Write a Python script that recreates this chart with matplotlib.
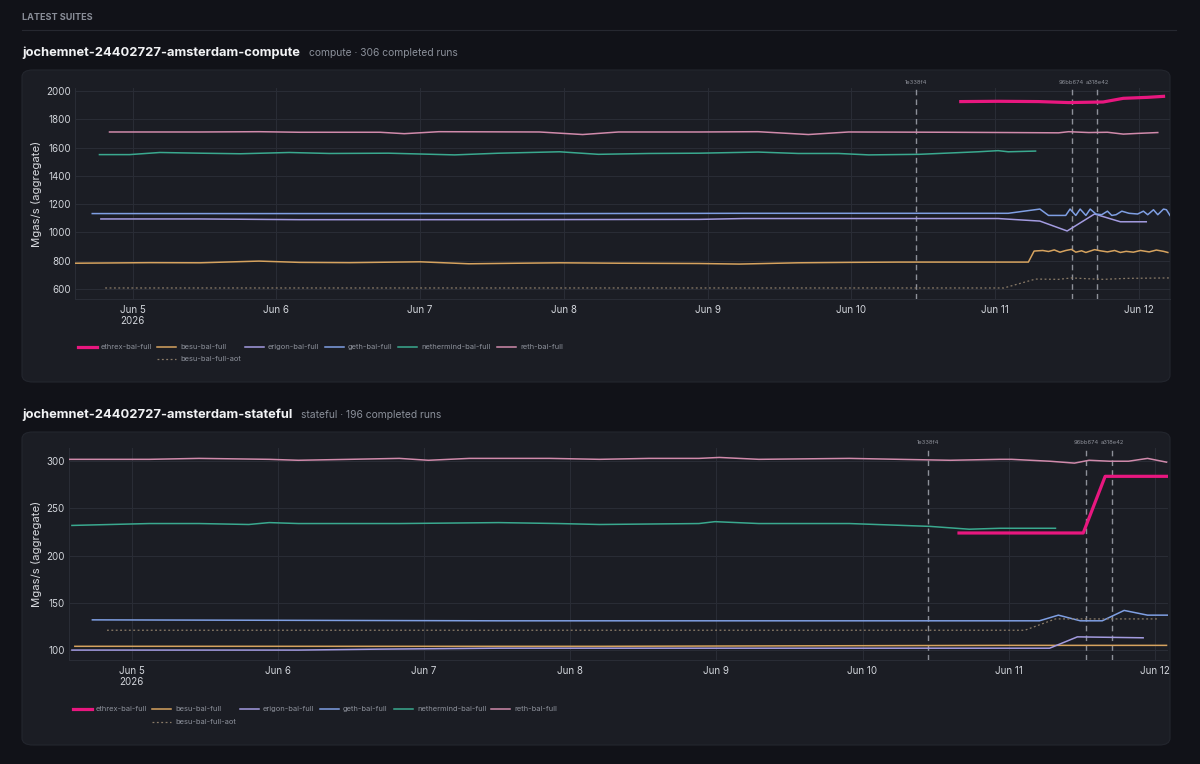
import numpy as np
import pandas as pd
import matplotlib
matplotlib.use("Agg")
import matplotlib.pyplot as plt
from matplotlib.patches import FancyBboxPatch
from matplotlib.lines import Line2D

plt.rcParams['font.family'] = ['Inter', 'DejaVu Sans']

# ---- data (time = days after 2026-06-05 00:00) ----
base_day = "2026-06-05"
tick_days = pd.date_range("2026-06-05", "2026-06-12", freq="D")
tick_labels = ["Jun 5\n2026", "Jun 6", "Jun 7", "Jun 8", "Jun 9", "Jun 10", "Jun 11", "Jun 12"]
commits = ["1e338f4", "96bb674", "a318e42"]
commit_times = ["2026-06-10 10:45", "2026-06-11 12:45", "2026-06-11 17:00"]

names = ["ethrex-bal-full", "besu-bal-full", "erigon-bal-full", "geth-bal-full",
         "nethermind-bal-full", "reth-bal-full", "besu-bal-full-aot"]

# compute suite
ethrex_c_t = [5.76, 6.02, 6.30, 6.51, 6.75, 6.89, 7.06, 7.17]
ethrex_c_v = [1925, 1927, 1925, 1918, 1922, 1948, 1955, 1962]
besu_c_t = [-0.40, 0.12, 0.47, 0.88, 1.16, 1.51, 2.00, 2.34, 2.69, 2.97, 3.38, 3.94, 4.22, 4.63,
            4.98, 5.33, 5.67, 6.02, 6.23, 6.27, 6.33, 6.37, 6.41, 6.45, 6.49, 6.53, 6.56, 6.60,
            6.63, 6.69, 6.73, 6.78, 6.83, 6.87, 6.91, 6.96, 7.01, 7.07, 7.12, 7.17, 7.20]
besu_c_v = [782, 786, 785, 797, 788, 786, 792, 778, 782, 785, 782, 780, 776, 785,
            788, 790, 790, 790, 790, 868, 872, 865, 876, 860, 872, 880, 860, 870,
            858, 878, 870, 862, 872, 858, 866, 860, 872, 862, 875, 866, 858]
erigon_c_t = [-0.22, 0.47, 1.16, 2.55, 3.94, 4.25, 5.33, 6.02, 6.31, 6.50, 6.69, 6.87, 7.05]
erigon_c_v = [1095, 1095, 1090, 1090, 1092, 1098, 1098, 1098, 1080, 1010, 1130, 1075, 1075]
geth_c_t = [-0.28, 1.50, 3.00, 4.25, 6.09, 6.31, 6.37, 6.42, 6.49, 6.52, 6.56, 6.59, 6.63,
            6.66, 6.70, 6.74, 6.78, 6.81, 6.84, 6.88, 6.93, 6.99, 7.03, 7.06, 7.10, 7.13, 7.17,
            7.19, 7.215]
geth_c_v = [1133, 1133, 1133, 1135, 1135, 1165, 1120, 1120, 1120, 1165, 1120, 1165, 1120,
            1165, 1130, 1125, 1150, 1120, 1125, 1150, 1135, 1130, 1150, 1125, 1160, 1125, 1165,
            1160, 1120]
nether_c_t = [-0.23, -0.02, 0.19, 0.47, 0.75, 1.09, 1.37, 1.78, 2.24, 2.55, 2.97, 3.24, 3.59,
              3.94, 4.35, 4.63, 4.91, 5.12, 5.47, 5.88, 6.02, 6.09, 6.28]
nether_c_v = [1550, 1550, 1565, 1560, 1556, 1565, 1558, 1560, 1548, 1560, 1570, 1552, 1558,
              1560, 1568, 1558, 1558, 1548, 1552, 1570, 1578, 1570, 1575]
reth_c_t = [-0.16, 0.47, 0.88, 1.16, 1.72, 1.89, 2.13, 2.83, 3.13, 3.38, 3.94, 4.35, 4.70,
            4.98, 5.67, 6.09, 6.44, 6.51, 6.65, 6.78, 6.89, 6.99, 7.13]
reth_c_v = [1710, 1710, 1712, 1708, 1708, 1698, 1712, 1710, 1692, 1710, 1710, 1712, 1692,
            1710, 1708, 1706, 1704, 1712, 1706, 1708, 1695, 1700, 1706]
aot_c_t = [-0.19, 2.00, 4.00, 6.06, 6.28, 6.44, 6.53, 6.65, 6.75, 6.92, 7.215]
aot_c_v = [607, 607, 607, 607, 670, 668, 678, 672, 668, 675, 678]

# stateful suite
ethrex_s_t = [5.66, 6.51, 6.66, 7.08]
ethrex_s_v = [224, 224, 284, 284]
besu_s_t = [-0.39, 3.20, 5.94, 7.08]
besu_s_v = [104, 104, 105, 105]
erigon_s_t = [-0.41, 1.14, 1.69, 2.51, 6.14, 6.28, 6.47, 6.92]
erigon_s_v = [100, 100, 101, 102, 102, 102, 114, 113]
geth_s_t = [-0.27, 2.51, 5.25, 6.21, 6.34, 6.49, 6.64, 6.79, 6.95, 7.09]
geth_s_v = [132, 131, 131, 131, 137, 131, 131, 142, 137, 137]
nether_s_t = [-0.41, 0.12, 0.46, 0.80, 0.94, 1.14, 1.83, 2.51, 2.92, 3.20, 3.88, 3.99, 4.29,
              4.91, 5.46, 5.73, 5.94, 6.32]
nether_s_v = [232, 234, 234, 233, 235, 234, 234, 235, 234, 233, 234, 236, 234,
              234, 231, 228, 229, 229]
reth_s_t = [-0.43, 0.12, 0.46, 0.94, 1.14, 1.49, 1.83, 2.03, 2.31, 2.86, 3.20, 3.54, 3.88,
            4.02, 4.29, 4.91, 5.25, 5.60, 5.94, 6.02, 6.28, 6.45, 6.55, 6.69, 6.82, 6.95, 7.08]
reth_s_v = [302, 302, 303, 302, 301, 302, 303, 301, 303, 303, 302, 303, 303,
            304, 302, 303, 302, 301, 302, 302, 300, 298, 301, 300, 300, 303, 299]
aot_s_t = [-0.17, 3.00, 6.11, 6.32, 7.02]
aot_s_v = [121, 121, 121, 133, 133]

compute_series = [(ethrex_c_t, ethrex_c_v), (besu_c_t, besu_c_v), (erigon_c_t, erigon_c_v),
                  (geth_c_t, geth_c_v), (nether_c_t, nether_c_v), (reth_c_t, reth_c_v),
                  (aot_c_t, aot_c_v)]
stateful_series = [(ethrex_s_t, ethrex_s_v), (besu_s_t, besu_s_v), (erigon_s_t, erigon_s_v),
                   (geth_s_t, geth_s_v), (nether_s_t, nether_s_v), (reth_s_t, reth_s_v),
                   (aot_s_t, aot_s_v)]

# ---- style ----
W, H = 1200, 764
BG = '#111218'
CARD = '#1b1d24'
CARD_EDGE = '#23262e'
GRID = '#2a2d36'
colors = ['#e8177f', '#d6a35f', '#a39be0', '#7f9fe3', '#3aa98f', '#d08aab', '#8a7b68']
widths = [2.3, 1.1, 1.1, 1.1, 1.1, 1.1, 0.9]
styles = ['-', '-', '-', '-', '-', '-', (0, (1.5, 2))]


def fbox(x0, y0, x1, y1):
    return [x0 / W, 1 - y1 / H, (x1 - x0) / W, (y1 - y0) / H]


def to_time(days):
    return pd.Timestamp(base_day) + pd.to_timedelta(np.array(days, dtype=float), unit='D')


fig = plt.figure(figsize=(12, 7.64), dpi=100, facecolor=BG)

fig.text(22 / W, 1 - 17 / H, "LATEST SUITES", fontsize=6.5, fontweight='bold', color='#8a8e98',
         va='center', ha='left')
fig.add_artist(Line2D([22 / W, 1176 / W], [1 - 30 / H] * 2, color='#262830', lw=0.8))


def panel(series, title, subtitle, title_y, card_px, ax_px, ylim, yticks, leg_px):
    x0, y0, x1, y1 = card_px
    card = FancyBboxPatch((x0 / W, 1 - y1 / H), (x1 - x0) / W, (y1 - y0) / H,
                          boxstyle="round,pad=0,rounding_size=0.009", transform=fig.transFigure,
                          facecolor=CARD, edgecolor=CARD_EDGE, lw=0.8, zorder=0)
    fig.add_artist(card)

    t = fig.text(22 / W, 1 - title_y / H, title, fontsize=9.3, fontweight='bold', color='#f2f3f5',
                 va='center', ha='left')
    fig.canvas.draw()
    bb = t.get_window_extent()
    fig.text((bb.x1 + 9) / W, 1 - title_y / H, subtitle, fontsize=7.4, color='#8b909a',
             va='center', ha='left')

    ax = fig.add_axes(fbox(*ax_px))
    ax.set_facecolor('none')
    for i, (tt, vv) in enumerate(series):
        ax.plot(to_time(tt), vv, color=colors[i], lw=widths[i], ls=styles[i],
                solid_joinstyle='round', zorder=3)

    all_t = np.concatenate([np.array(s[0], dtype=float) for s in series])
    ax.set_xlim(to_time([all_t.min()])[0], to_time([all_t.max()])[0])
    ax.set_ylim(*ylim)
    ax.set_yticks(yticks)
    ax.set_xticks(tick_days)
    ax.set_xticklabels(tick_labels)
    ax.tick_params(length=0, colors='#d2d5db', labelsize=7)
    ax.tick_params(axis='y', pad=3)
    ax.tick_params(axis='x', pad=4)
    ax.grid(True, color=GRID, lw=0.7)
    ax.set_axisbelow(True)
    for s in ax.spines.values():
        s.set_color(GRID)
        s.set_linewidth(0.7)
    ax.spines['top'].set_visible(False)
    ax.spines['right'].set_visible(False)

    for c, ct in zip(commits, commit_times):
        ts = pd.Timestamp(ct)
        ax.axvline(ts, color='#8d9099', lw=1.0, ls=(0, (4, 3)), zorder=2)
        ax.text(ts, 1.012, c, transform=ax.get_xaxis_transform(), fontsize=4.2, color='#8d9099',
                ha='center', va='bottom', clip_on=False)

    fig.text(37 / W, 1 - (ax_px[1] + ax_px[3]) / 2 / H, "Mgas/s (aggregate)", rotation=90,
             fontsize=8.2, color='#d9dbe0', va='center', ha='center')

    # legend (horizontal, second row under second entry)
    lx, ly, row2 = leg_px
    for i, name in enumerate(names):
        if i < 6:
            x, y = lx[i], ly
        else:
            x, y = lx[1], row2
        fig.add_artist(Line2D([x / W, (x + 19) / W], [1 - y / H] * 2, color=colors[i],
                              lw=widths[i], ls=styles[i]))
        fig.text((x + 23) / W, 1 - y / H, name, fontsize=5.4, color='#8d919b',
                 va='center', ha='left')
    return ax


panel(compute_series, "jochemnet-24402727-amsterdam-compute", "compute · 306 completed runs",
      53, (22, 70, 1170, 382), (75, 88, 1170, 299), (529, 2021),
      [600, 800, 1000, 1200, 1400, 1600, 1800, 2000],
      ([78, 157, 245, 325, 398, 497], 347, 359))

panel(stateful_series, "jochemnet-24402727-amsterdam-stateful", "stateful · 196 completed runs",
      415, (22, 432, 1170, 745), (69, 448, 1168, 660), (89.5, 314),
      [100, 150, 200, 250, 300],
      ([73, 152, 240, 320, 394, 491], 709, 722))

fig.savefig("out.png", dpi=100, facecolor=BG)
